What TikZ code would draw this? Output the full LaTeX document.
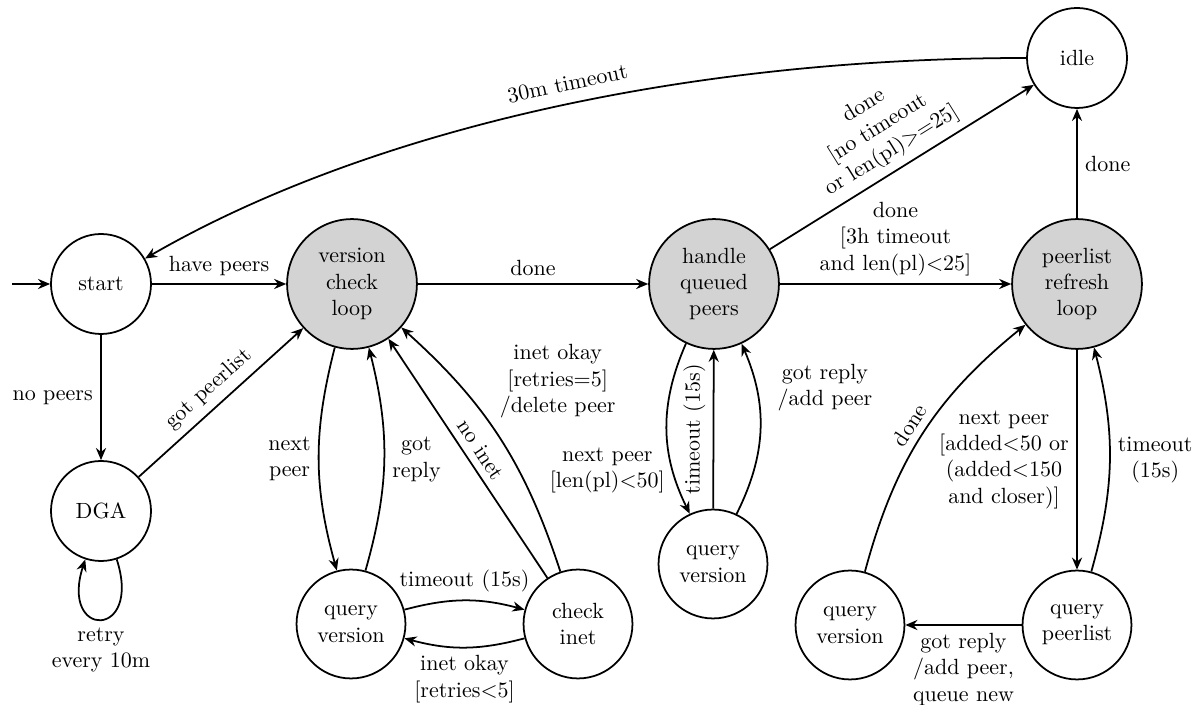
\documentclass[tikz,border=0pt]{standalone}
\usetikzlibrary{arrows.meta}
\definecolor{statefill}{RGB}{211,211,211}
\begin{document}
\begin{tikzpicture}[x=0.4545pt,y=0.4545pt,line width=0.8pt,
  >={Stealth[length=5.5pt,width=4.6pt,inset=1.8pt]},
  smallstate/.style={circle,draw,inner sep=0pt,minimum size=45.45pt,align=center},
  midstate/.style={circle,draw,inner sep=0pt,minimum size=49.5pt,align=center},
  bigstate/.style={circle,draw,fill=statefill,inner sep=0pt,minimum size=59pt,align=center},
  trans/.style={->},
  lbl/.style={align=center}]
\useasboundingbox (0,0) rectangle (1203,-705);

% states
\node[smallstate] (start) at (101,-284) {start};
\node[smallstate] (dga)   at (101,-511) {DGA};
\node[bigstate]   (vcl)   at (352,-284) {version\\check\\loop};
\node[midstate]   (qv1)   at (351,-624) {query\\version};
\node[midstate]   (ci)    at (578,-624) {check\\inet};
\node[bigstate]   (hqp)   at (714,-284) {handle\\queued\\peers};
\node[midstate]   (qv2)   at (713,-564) {query\\version};
\node[bigstate]   (prl)   at (1077,-284) {peerlist\\refresh\\loop};
\node[smallstate] (idle)  at (1077,-58) {idle};
\node[midstate]   (qv3)   at (850,-625) {query\\version};
\node[midstate]   (qp)    at (1077,-625) {query\\peerlist};
\coordinate (init) at (12,-284);

% transitions
\draw[trans] (init) -- (start);
\draw[trans] (start) -- node[above,lbl]{have peers} (vcl);
\draw[trans] (start) -- node[left,lbl]{no peers} (dga);
\draw[trans] (dga) -- node[above,sloped,lbl]{got peerlist} (vcl);
\draw[trans] (dga.-72) .. controls +(26,-80) and +(-26,-80) .. node[below,lbl]{retry\\every 10m} (dga.-108);

\draw[trans] (idle.west) .. controls +(-350,0) and +(216.5,125) .. node[above=2pt,sloped,pos=0.46,lbl]{30m timeout} (start.30);

\draw[trans] (vcl) -- node[above,lbl]{done} (hqp);
\draw[trans] (hqp) -- node[above,lbl]{done\\{[}3h timeout\\and len(pl)$<$25]} (prl);
\draw[trans] (hqp) -- node[above,sloped,lbl]{done\\{[}no timeout\\or len(pl)$>=$25]} (idle);
\draw[trans] (prl) -- node[right,lbl]{done} (idle);

\draw[trans] (vcl) to[bend right=15] node[left,lbl]{next\\peer} (qv1);
\draw[trans] (qv1) to[bend right=15] node[right,lbl]{got\\reply} (vcl);
\draw[trans] (qv1) to[bend left=15] node[above,lbl]{timeout (15s)} (ci);
\draw[trans] (ci) to[bend left=15] node[below,lbl]{inet okay\\{[}retries$<$5]} (qv1);
\draw[trans] (ci) -- node[above,sloped,lbl]{no inet} (vcl);
\draw[trans] (ci) to[bend right=15] node[pos=0.55,above right,lbl]{inet okay\\{[}retries=5]\\/delete peer} (vcl);

\draw[trans] (hqp) to[bend right=25] node[pos=0.75,left,lbl]{next peer\\{[}len(pl)$<$50]} (qv2);
\draw[trans] (qv2) -- node[above,sloped,lbl]{timeout (15s)} (hqp);
\draw[trans] (qv2) to[bend right=25] node[pos=0.75,right,xshift=6pt,lbl]{got reply\\/add peer} (hqp);

\draw[trans] (prl) -- node[left,lbl]{next peer\\{[}added$<$50 or\\(added$<$150\\and closer)]} (qp);
\draw[trans] (qp) to[bend right=15] node[right,lbl]{timeout\\(15s)} (prl);
\draw[trans] (qp) -- node[below,lbl]{got reply\\/add peer,\\queue new} (qv3);
\draw[trans] (qv3) to[bend left=18] node[above,sloped,lbl]{done} (prl);
\end{tikzpicture}
\end{document}
